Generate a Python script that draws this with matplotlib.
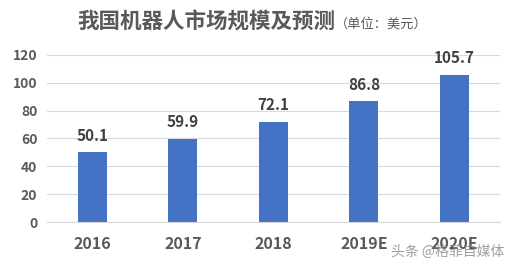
import matplotlib
matplotlib.use("Agg")
import matplotlib.pyplot as plt

plt.rcParams['font.family'] = ['Noto Sans CJK SC', 'DejaVu Sans']

years = ['2016', '2017', '2018', '2019E', '2020E']
values = [50.1, 59.9, 72.1, 86.8, 105.7]
yticks = [0, 20, 40, 60, 80, 100, 120]

bar_color = '#4472C4'
text_color = '#595959'

fig = plt.figure(figsize=(5.11, 2.64), dpi=100)
ax = fig.add_axes([0.092, 0.159, 0.886, 0.633])

x = range(len(years))
bars = ax.bar(x, values, width=0.32, color=bar_color, zorder=2)
for xi, v in zip(x, values):
    ax.text(xi, v + 6, f'{v:.1f}', ha='center', va='bottom',
            fontsize=11, fontweight='bold', color='#404040')

ax.set_xlim(-0.5, len(years) - 0.5)
ax.set_ylim(0, 120)
ax.set_yticks(yticks)
ax.set_xticks(list(x))
ax.set_xticklabels(years)
ax.yaxis.grid(True, color='#D9D9D9', linewidth=0.8, zorder=0)
ax.set_axisbelow(True)
for s in ['top', 'right', 'left']:
    ax.spines[s].set_visible(False)
ax.spines['bottom'].set_color('#D9D9D9')
ax.tick_params(length=0)
ax.tick_params(axis='y', labelsize=10, labelcolor=text_color, pad=7)
ax.tick_params(axis='x', labelsize=11.5, labelcolor=text_color, pad=10)
for lab in ax.get_yticklabels() + ax.get_xticklabels():
    lab.set_fontweight('bold')

fig.text(0.151, 0.915, '我国机器人市场规模及预测', ha='left', va='center',
         fontsize=15.5, fontweight='bold', color=text_color)
fig.text(0.655, 0.91, '（单位：美元）', ha='left', va='center',
         fontsize=9.5, color=text_color)

fig.text(0.988, 0.045, '头条 @格菲自媒体', ha='right', va='center',
         fontsize=10, color='#888888', alpha=0.8)

fig.savefig('out.png', dpi=100)
